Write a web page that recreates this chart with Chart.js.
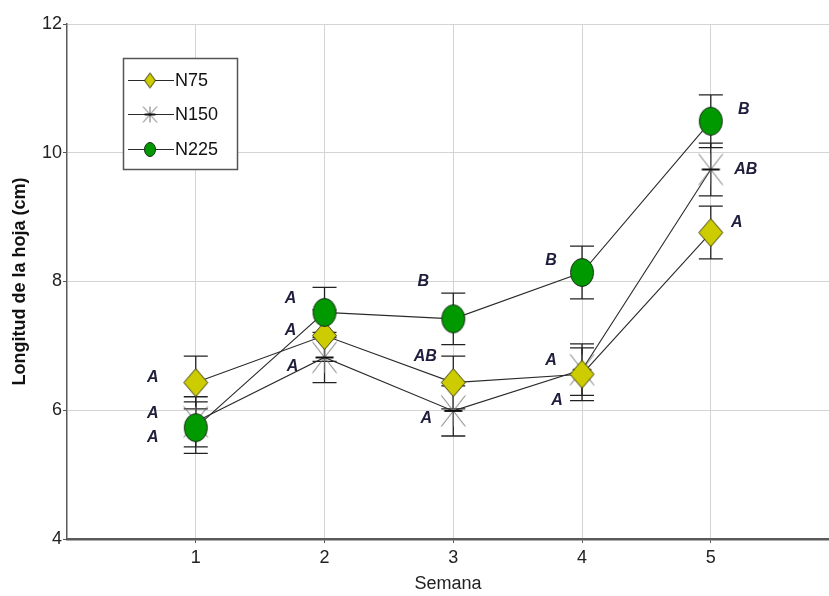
<!DOCTYPE html>
<html>
<head>
<meta charset="utf-8">
<script src="https://cdn.jsdelivr.net/npm/chart.js@4/dist/chart.umd.min.js"></script>
<style>
  html, body { margin: 0; padding: 0; background: #ffffff; }
  #wrap { width: 829px; height: 596px; }
</style>
</head>
<body>
<div id="wrap"><canvas id="chart" width="829" height="596"></canvas></div>
<script>
/* Longitud de la hoja por semana — N75 / N150 / N225 */

// ── Data ─────────────────────────────────
const weeks       = [1, 2, 3, 4, 5];
const yTicks      = [4, 6, 8, 10, 12];

const n75         = [6.43, 7.16, 6.43, 6.56, 8.76];
const n75Err      = [0.41, 0.40, 0.41, 0.41, 0.41];
const n75Letters  = ["A", "A", "AB", "A", "A"];

const n150        = [5.82, 6.82, 5.99, 6.63, 9.74];
const n150Err     = [0.39, 0.39, 0.39, 0.40, 0.41];
const n150Letters = ["A", "A", "A", "A", "AB"];

const n225        = [5.73, 7.52, 7.42, 8.14, 10.49];
const n225Err     = [0.40, 0.39, 0.40, 0.41, 0.41];
const n225Letters = ["A", "A", "B", "B", "B"];

// ── Layout / style ───────────────────────
const FONT       = "'Liberation Sans', Arial, sans-serif";
const YELLOW     = "#cccc00";
const GREEN      = "#009900";
const LINE_COLOR = "#2a2a2a";

// letter offsets (px) from each marker
const n75Off  = [[-43, -5], [-34, -5], [-28, -26], [-25, 26], [26, -10]];
const n150Off = [[-43, -8], [-32, 9], [-27, 8], [-31, -9], [35, 0]];
const n225Off = [[-43, 10], [-34, -14], [-30, -37], [-31, -12], [33, -12]];

// ── Marker images ────────────────────────
function makeMarker(kind, hw, hh) {
  const c = document.createElement("canvas");
  c.width  = Math.round(hw * 2 + 3);
  c.height = Math.round(hh * 2 + 3);
  const g  = c.getContext("2d");
  const cx = c.width / 2, cy = c.height / 2;
  g.lineWidth = 1;
  if (kind === "diamond") {
    g.beginPath();
    g.moveTo(cx, cy - hh); g.lineTo(cx + hw, cy);
    g.lineTo(cx, cy + hh); g.lineTo(cx - hw, cy);
    g.closePath();
    g.fillStyle = YELLOW; g.fill();
    g.strokeStyle = "#3c3c10"; g.stroke();
  } else if (kind === "ellipse") {
    g.beginPath();
    g.ellipse(cx, cy, hw, hh, 0, 0, Math.PI * 2);
    g.fillStyle = GREEN; g.fill();
    g.strokeStyle = "#1c2c1c"; g.stroke();
  } else {
    g.strokeStyle = "#6e6e6e";
    g.beginPath();
    g.moveTo(cx - hw, cy - hh); g.lineTo(cx + hw, cy + hh);
    g.moveTo(cx - hw, cy + hh); g.lineTo(cx + hw, cy - hh);
    g.moveTo(cx, cy - hh);      g.lineTo(cx, cy + hh);
    g.stroke();
    g.strokeStyle = "#111"; g.lineWidth = 2;
    g.beginPath();
    g.moveTo(cx - hw * 0.75, cy); g.lineTo(cx + hw * 0.75, cy);
    g.stroke();
  }
  return c;
}

const diamondImg  = makeMarker("diamond", 12, 14);
const starImg     = makeMarker("star", 12, 15.5);
const ellipseImg  = makeMarker("ellipse", 11.5, 14);
const legendIcons = {
  N75:  makeMarker("diamond", 5.5, 7.5),
  N150: makeMarker("star", 7, 8),
  N225: makeMarker("ellipse", 5.5, 7),
};

const toPoints = vals => weeks.map((w, i) => ({ x: w, y: vals[i] }));

// ── Plugins ──────────────────────────────
const errorBars = {
  id: "errorBars",
  beforeDatasetsDraw(chart) {
    const { ctx, scales: { x, y } } = chart;
    ctx.save();
    ctx.strokeStyle = "#222";
    ctx.lineWidth = 1.3;
    chart.data.datasets.forEach(ds => {
      ds.data.forEach((p, i) => {
        const px  = x.getPixelForValue(p.x);
        const top = y.getPixelForValue(p.y + ds.errors[i]);
        const bot = y.getPixelForValue(p.y - ds.errors[i]);
        ctx.beginPath();
        ctx.moveTo(px, top); ctx.lineTo(px, bot);
        ctx.moveTo(px - 12, top); ctx.lineTo(px + 12, top);
        ctx.moveTo(px - 12, bot); ctx.lineTo(px + 12, bot);
        ctx.stroke();
      });
    });
    ctx.restore();
  }
};

const letterLabels = {
  id: "letterLabels",
  afterDatasetsDraw(chart) {
    const { ctx } = chart;
    ctx.save();
    ctx.font = "italic bold 16px " + FONT;
    ctx.fillStyle = "#1e1e3c";
    ctx.textAlign = "center";
    ctx.textBaseline = "middle";
    chart.data.datasets.forEach((ds, di) => {
      chart.getDatasetMeta(di).data.forEach((pt, i) => {
        const [dx, dy] = ds.letterOffsets[i];
        ctx.fillText(ds.letters[i], pt.x + dx, pt.y + dy);
      });
    });
    ctx.restore();
  }
};

const boxLegend = {
  id: "boxLegend",
  afterDraw(chart) {
    const { ctx } = chart;
    const box = { x: 123.5, y: 58.5, w: 114, h: 111 };
    const rowsY = [80, 114, 149];
    ctx.save();
    ctx.fillStyle = "#ffffff";
    ctx.fillRect(box.x, box.y, box.w, box.h);
    ctx.strokeStyle = "#555";
    ctx.lineWidth = 1.5;
    ctx.strokeRect(box.x, box.y, box.w, box.h);
    ctx.font = "18px " + FONT;
    ctx.textBaseline = "middle";
    ctx.fillStyle = "#111";
    chart.data.datasets.forEach((ds, i) => {
      const yy = rowsY[i];
      ctx.strokeStyle = LINE_COLOR;
      ctx.lineWidth = 1;
      ctx.beginPath();
      ctx.moveTo(128, yy + 0.5); ctx.lineTo(174, yy + 0.5);
      ctx.stroke();
      const icon = legendIcons[ds.label];
      ctx.drawImage(icon, 150 - icon.width / 2, yy + 0.5 - icon.height / 2);
      ctx.fillText(ds.label, 175, yy + 1);
    });
    ctx.restore();
  }
};

// ── Chart ────────────────────────────────
function dataset(label, vals, errs, letters, offs, img, order) {
  return {
    label,
    data: toPoints(vals),
    errors: errs,
    letters,
    letterOffsets: offs,
    borderColor: LINE_COLOR,
    borderWidth: 1.1,
    pointStyle: img,
    pointRadius: 12,
    pointHoverRadius: 12,
    tension: 0,
    fill: false,
    order,
  };
}

new Chart(document.getElementById("chart"), {
  type: "line",
  data: {
    datasets: [
      dataset("N75",  n75,  n75Err,  n75Letters,  n75Off,  diamondImg, 1),
      dataset("N150", n150, n150Err, n150Letters, n150Off, starImg,    2),
      dataset("N225", n225, n225Err, n225Letters, n225Off, ellipseImg, 0),
    ]
  },
  options: {
    responsive: false,
    animation: false,
    layout: { autoPadding: false, padding: { top: 24, right: 0, left: 0, bottom: 0 } },
    plugins: { legend: { display: false }, tooltip: { enabled: false } },
    scales: {
      x: {
        type: "linear",
        min: 0,
        max: 5.918,
        afterBuildTicks: s => { s.ticks = weeks.map(v => ({ value: v })); },
        afterFit: s => { s.height = 57; },
        grid: { color: "#d4d4d4", tickColor: "#555", tickLength: 4 },
        border: { color: "#5a5a5a", width: 2.5 },
        ticks: { font: { family: FONT, size: 18 }, color: "#222", padding: 4, maxRotation: 0 },
        title: {
          display: true, text: "Semana",
          font: { family: FONT, size: 18 }, color: "#222",
          padding: { top: 0, bottom: 1 }
        }
      },
      y: {
        min: 4,
        max: 12,
        afterBuildTicks: s => { s.ticks = yTicks.map(v => ({ value: v })); },
        afterFit: s => { s.width = 67; },
        grid: { color: "#d4d4d4", tickColor: "#555", tickLength: 4 },
        border: { color: "#5a5a5a", width: 1.5 },
        ticks: { font: { family: FONT, size: 18 }, color: "#222", padding: 1 },
        title: {
          display: true, text: "Longitud de la hoja (cm)",
          font: { family: FONT, size: 18, weight: "bold" }, color: "#111",
          padding: { top: 9, bottom: 0 }
        }
      }
    }
  },
  plugins: [errorBars, letterLabels, boxLegend]
});
</script>
</body>
</html>
